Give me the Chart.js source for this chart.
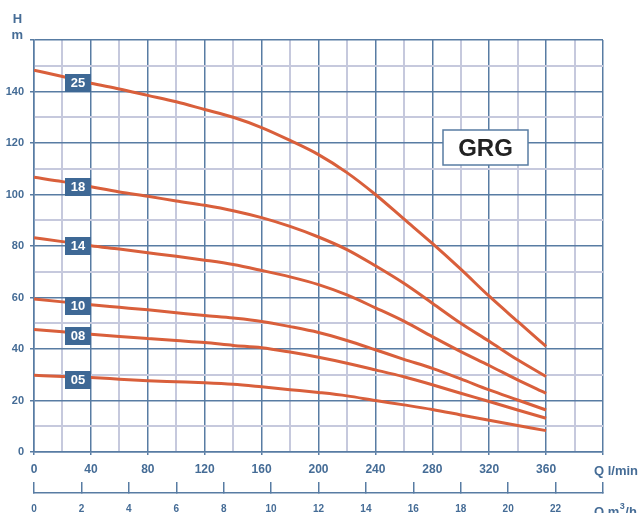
<!DOCTYPE html>
<html>
<head>
<meta charset="utf-8">
<script src="https://cdn.jsdelivr.net/npm/chart.js@4/dist/chart.umd.min.js"></script>
<style>
  html, body { margin: 0; padding: 0; background: #fff; }
  #wrap { width: 643px; height: 513px; position: relative; }
</style>
</head>
<body>
<div id="wrap"><canvas id="chartGRG"></canvas></div>
<script>
// Q in l/min
const vazoes = [0, 20, 40, 60, 80, 100, 120, 140, 160, 180, 200, 220, 240, 260, 280, 300, 320, 340, 360];
const modelos = ['25', '18', '14', '10', '08', '05'];
// H in m for each model
const h25 = [148.3, 145.8, 143.2, 141, 138.5, 136, 133, 130, 126, 121, 115.5, 108.5, 100, 90.5, 81, 71, 60.5, 50.7, 41];
const h18 = [106.7, 105, 103, 101, 99.3, 97.5, 95.8, 93.7, 91, 87.6, 83.5, 78.6, 72.3, 65.5, 57.8, 50, 43, 35.8, 29.3];
const h14 = [83.2, 81.7, 80.1, 78.8, 77.4, 76, 74.5, 72.8, 70.5, 68, 65, 61, 56, 50.8, 44.8, 39, 33.6, 28, 22.8];
const h10 = [59.4, 58.3, 57.2, 56.2, 55.2, 54.1, 53, 52, 50.7, 48.7, 46.4, 43.3, 39.7, 36, 32.5, 28.4, 24.1, 20.2, 16.3];
const h08 = [47.6, 46.7, 45.7, 44.9, 44.1, 43.3, 42.5, 41.4, 40.5, 38.8, 36.8, 34.5, 31.9, 29.2, 26.1, 22.8, 19.6, 16.3, 13.1];
const h05 = [29.8, 29.3, 28.9, 28.3, 27.7, 27.3, 26.9, 26.3, 25.3, 24.2, 23.1, 21.8, 20, 18.3, 16.5, 14.4, 12.3, 10.3, 8.3];
const alturas = [h25, h18, h14, h10, h08, h05];
const posicaoRotulo = 31; // l/min where the model tag sits

const corCurva = '#d95f3b';
const corTexto = '#456c96';
const corMaior = '#587ca3';
const corMenor = '#c6c9dd';
const corEtiqueta = '#3e6895';

const datasets = alturas.map((serie, i) => ({
    label: modelos[i],
    data: serie.map((h, j) => ({ x: vazoes[j], y: h })),
    borderColor: corCurva,
    borderWidth: 3,
    pointRadius: 0,
    fill: false,
    cubicInterpolationMode: 'monotone'
}));

const ehMaior = (v, passo) => Math.abs(v % passo) < 1e-6;

const textosExtras = {
    id: 'textosExtras',
    afterDatasetsDraw(chart) {
        const ctx = chart.ctx;
        const xs = chart.scales.x;
        ctx.save();

        // model tags
        chart.data.datasets.forEach((ds, i) => {
            const pts = chart.getDatasetMeta(i).data;
            const t = (posicaoRotulo - vazoes[1]) / (vazoes[2] - vazoes[1]);
            const y = pts[1].y + (pts[2].y - pts[1].y) * t + 2.5;
            const x = xs.getPixelForValue(posicaoRotulo);
            ctx.fillStyle = corEtiqueta;
            ctx.fillRect(Math.round(x - 13), Math.round(y - 9), 26, 18);
            ctx.fillStyle = '#fff';
            ctx.font = 'bold 13px "Liberation Sans", Arial, sans-serif';
            ctx.textAlign = 'center';
            ctx.textBaseline = 'middle';
            ctx.fillText(ds.label, x, y + 0.5);
        });

        // GRG box
        ctx.fillStyle = '#fff';
        ctx.fillRect(443, 130, 85, 35);
        ctx.strokeStyle = corMaior;
        ctx.lineWidth = 1.5;
        ctx.strokeRect(443, 130, 85, 35);
        ctx.fillStyle = '#222';
        ctx.font = 'bold 24px "Liberation Sans", Arial, sans-serif';
        ctx.textAlign = 'center';
        ctx.textBaseline = 'middle';
        ctx.fillText('GRG', 485.5, 149);

        // axis titles
        ctx.fillStyle = corTexto;
        ctx.font = 'bold 13px "Liberation Sans", Arial, sans-serif';
        ctx.textAlign = 'center';
        ctx.textBaseline = 'alphabetic';
        ctx.fillText('H', 17.5, 23.3);
        ctx.fillText('m', 17.2, 39.3);

        ctx.textAlign = 'left';
        ctx.font = 'bold 13px "Liberation Sans", Arial, sans-serif';
        ctx.fillText('Q l/min', 594, 474.5);
        ctx.fillText('Q m', 594, 516);
        const w = ctx.measureText('Q m').width;
        ctx.font = 'bold 9px "Liberation Sans", Arial, sans-serif';
        ctx.fillText('3', 594 + w + 0.5, 509);
        const w3 = ctx.measureText('3').width;
        ctx.font = 'bold 13px "Liberation Sans", Arial, sans-serif';
        ctx.fillText('/h', 594 + w + w3 + 1, 516);

        ctx.restore();
    }
};

const config = {
    type: 'line',
    data: { datasets: datasets },
    options: {
        responsive: true,
        maintainAspectRatio: false,
        animation: false,
        layout: { padding: { left: 0, right: 40, top: 40, bottom: 0 } },
        plugins: {
            legend: { display: false },
            tooltip: { enabled: false }
        },
        scales: {
            x: {
                type: 'linear',
                position: 'bottom',
                weight: 0,
                min: 0,
                max: 400,
                ticks: {
                    stepSize: 20,
                    autoSkip: false,
                    maxRotation: 0,
                    padding: 7,
                    color: corTexto,
                    font: { family: '"Liberation Sans", Arial, sans-serif', size: 12, weight: 'bold' },
                    callback: v => (ehMaior(v, 40) && v < 400 ? v : '')
                },
                grid: {
                    color: c => (c.tick && ehMaior(c.tick.value, 40) ? corMaior : corMenor),
                    lineWidth: c => (c.tick && ehMaior(c.tick.value, 40) ? 1.5 : 2),
                    tickColor: c => (c.tick && ehMaior(c.tick.value, 40) ? corMaior : 'rgba(0,0,0,0)'),
                    tickLength: 3
                },
                border: { color: corMaior, width: 1.5 },
                afterFit: s => { s.height = 41; }
            },
            x2: {
                type: 'linear',
                position: 'bottom',
                weight: 1,
                min: 0,
                max: 24,
                ticks: {
                    stepSize: 2,
                    autoSkip: false,
                    maxRotation: 0,
                    padding: 21,
                    color: corTexto,
                    font: { family: '"Liberation Sans", Arial, sans-serif', size: 10, weight: 'bold' },
                    callback: v => (v < 24 ? v : '')
                },
                grid: {
                    drawOnChartArea: false,
                    color: corMaior,
                    lineWidth: 1.5,
                    tickLength: -11
                },
                border: { color: corMaior, width: 1.5 },
                afterFit: s => { s.height = 20; }
            },
            y: {
                type: 'linear',
                min: 0,
                max: 160,
                ticks: {
                    stepSize: 10,
                    autoSkip: false,
                    padding: 6,
                    color: corTexto,
                    font: { family: '"Liberation Sans", Arial, sans-serif', size: 11, weight: 'bold' },
                    callback: v => (ehMaior(v, 20) && v < 160 ? v : '')
                },
                grid: {
                    color: c => (c.tick && ehMaior(c.tick.value, 20) ? corMaior : corMenor),
                    lineWidth: c => (c.tick && ehMaior(c.tick.value, 20) ? 1.5 : 2),
                    tickColor: c => (c.tick && ehMaior(c.tick.value, 20) ? corMaior : 'rgba(0,0,0,0)'),
                    tickLength: 4
                },
                border: { color: corMaior, width: 1.5 },
                afterFit: s => { s.width = 34; }
            }
        }
    },
    plugins: [textosExtras]
};

new Chart(document.getElementById('chartGRG'), config);
</script>
</body>
</html>
